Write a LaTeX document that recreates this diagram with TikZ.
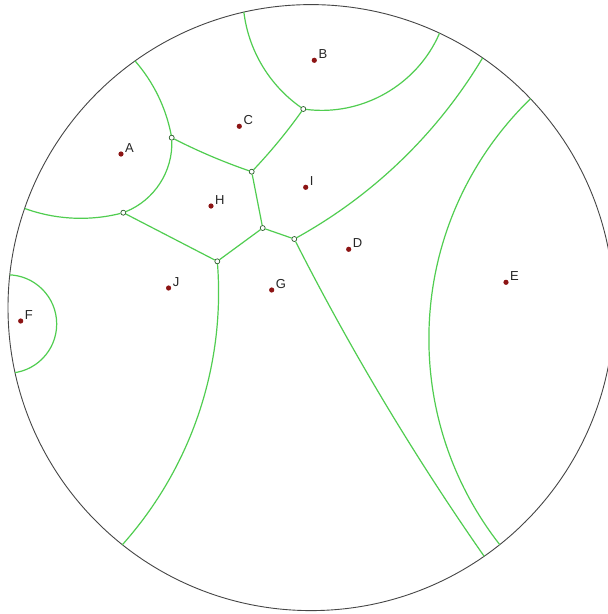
\documentclass[tikz,border=0pt]{standalone}
\usepackage{fontspec}
\setmainfont{Liberation Sans}
\definecolor{vline}{RGB}{80,205,80}
\definecolor{sitered}{RGB}{140,20,20}
\definecolor{vtxgreen}{RGB}{40,90,40}
\definecolor{rim}{RGB}{70,70,70}
\begin{document}
\begin{tikzpicture}[x=1pt,y=-1pt,
  vor/.style={draw=vline, line width=1.2pt},
  site/.style={circle, fill=sitered, inner sep=0pt, minimum size=5.2pt},
  vtx/.style={circle, draw=vtxgreen, fill=white, line width=0.7pt, inner sep=0pt, minimum size=5pt},
  lab/.style={anchor=base west, inner sep=0pt, font=\fontsize{13}{13}\selectfont, text=black!85}]
\useasboundingbox (0,0) rectangle (608,614);
\fill[white] (0,0) rectangle (608,614);
\coordinate (O) at (311,307.6);
% boundary end points of the edges
\coordinate (bAC) at ([shift={(O)}]-125.5:303);
\coordinate (bAJ) at ([shift={(O)}]-160.9:303);
\coordinate (bCB) at ([shift={(O)}]-102.8:303);
\coordinate (bBI) at ([shift={(O)}]-64.9:303);
\coordinate (bID) at ([shift={(O)}]-55.5:303);
\coordinate (bGD) at ([shift={(O)}]55.15:303);
\coordinate (bJG) at ([shift={(O)}]128.5:303);
% Voronoi vertices
\node[vtx] (V1) at (303.3,109) {};
\node[vtx] (V2) at (171.7,137.7) {};
\node[vtx] (V3) at (251.7,171.7) {};
\node[vtx] (V4) at (123.3,212.7) {};
\node[vtx] (V5) at (262.7,228) {};
\node[vtx] (V6) at (294.3,239) {};
\node[vtx] (V7) at (217.3,261.3) {};
% boundary circle
\draw[rim, line width=0.9pt] (O) circle[radius=303];
% full geodesics
\begin{scope}
\clip (O) circle[radius=303];
\draw[vor] (7.5,324) circle[radius=49.2];
\draw[vor] (763.3,338.8) circle[radius=334.4];
\end{scope}
% edges
\draw[vor] (bAC) to[bend left=15, looseness=0.87] (V2);
\draw[vor] (V2) to[bend left=35, looseness=0.93] (V4);
\draw[vor] (V4) to[bend left=17, looseness=0.87] (bAJ);
\draw[vor] (bCB) to[bend right=24, looseness=0.89] (V1);
\draw[vor] (V1) to[bend right=37, looseness=0.94] (bBI);
\draw[vor] (V1) to[bend left=4, looseness=0.85] (V3);
\draw[vor] (V2) to[bend right=4, looseness=0.85] (V3);
\draw[vor] (V3) -- (V5);
\draw[vor] (V4) -- (V7);
\draw[vor] (V7) -- (V5);
\draw[vor] (V5) -- (V6);
\draw[vor] (V6) to[bend right=15, looseness=0.87] (bID);
\draw[vor] (V6) to[bend right=4, looseness=0.85] (bGD);
\draw[vor] (V7) to[bend left=23, looseness=0.89] (bJG);
% sites
\node[site] (A) at (121,154) {};
\node[site] (B) at (314.3,60.3) {};
\node[site] (C) at (239.3,126.3) {};
\node[site] (D) at (348.7,249.3) {};
\node[site] (E) at (506,282.3) {};
\node[site] (F) at (20.7,321) {};
\node[site] (G) at (271.7,290) {};
\node[site] (H) at (211,206) {};
\node[site] (I) at (305.7,187.3) {};
\node[site] (J) at (168.6,288) {};
\foreach \s in {A,B,C,D,E,F,G,H,I,J}
  \node[lab] (l\s) at ([xshift=4pt,yshift=1.5pt]\s.center) {\s};
\end{tikzpicture}
\end{document}
